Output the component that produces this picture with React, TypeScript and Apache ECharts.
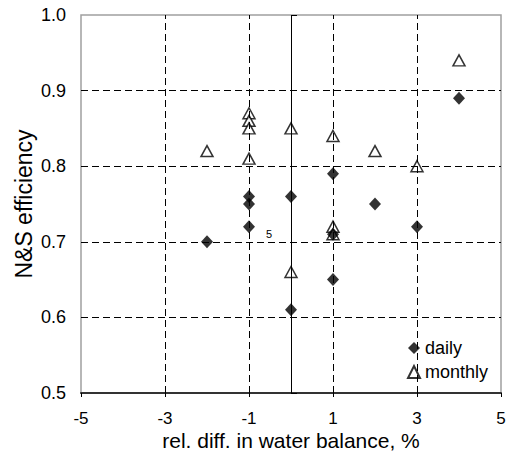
import React, { useEffect, useRef } from "react";
import * as echarts from "echarts";

const xDaily = [-2, -1, -1, -1, 0, 0, 1, 1, 1, 2, 3, 4];
const yDaily = [0.70, 0.76, 0.75, 0.72, 0.76, 0.61, 0.79, 0.71, 0.65, 0.75, 0.72, 0.89];
const xMonthly = [-2, -1, -1, -1, -1, 0, 0, 1, 1, 1, 2, 3, 4];
const yMonthly = [0.82, 0.87, 0.86, 0.85, 0.81, 0.85, 0.66, 0.84, 0.72, 0.71, 0.82, 0.80, 0.94];
const xTicks = [-5, -3, -1, 1, 3, 5];
const xGrid = [-3, -1, 1, 3];
const yGrid = [0.6, 0.7, 0.8, 0.9];

const FONT = "'Liberation Sans', Arial, sans-serif";

export default function App() {
  const ref = useRef<HTMLDivElement>(null);
  useEffect(() => {
    document.body.style.margin = "0";
    if (!ref.current) return;
    const chart = echarts.init(ref.current, null, { renderer: "svg" });
    const dashed = { color: "#000", width: 1, type: [7, 4] as any };
    chart.setOption({
      animation: false,
      textStyle: { fontFamily: FONT },
      grid: {
        left: 81,
        right: 6,
        top: 15,
        bottom: 62,
        outerBoundsMode: "none",
        containLabel: false,
        show: true,
        borderColor: "#a0a0a0",
        borderWidth: 1.5,
        backgroundColor: "transparent",
      },
      xAxis: {
        type: "value",
        min: -5,
        max: 5,
        interval: 1,
        name: "rel. diff. in water balance, %",
        nameLocation: "middle",
        nameGap: 37,
        nameMoveOverlap: false,
        nameTextStyle: { fontSize: 21, color: "#000", fontFamily: FONT },
        axisLine: { show: true, lineStyle: { color: "#333", width: 2 } },
        axisTick: { show: true, inside: false, length: 4, customValues: xTicks, lineStyle: { color: "#000" } },
        axisLabel: { customValues: xTicks, fontSize: 17, color: "#000", margin: 17, fontFamily: FONT },
        splitLine: { show: false },
      },
      yAxis: {
        type: "value",
        min: 0.5,
        max: 1.0,
        interval: 0.1,
        name: "N&S efficiency",
        nameLocation: "middle",
        nameGap: 46,
        nameMoveOverlap: false,
        nameTextStyle: { fontSize: 23, color: "#000", fontFamily: FONT },
        axisLine: { show: false },
        axisTick: { show: true, inside: true, length: 6, lineStyle: { color: "#000" } },
        axisLabel: {
          fontSize: 18,
          color: "#000",
          margin: 15,
          fontFamily: FONT,
          formatter: (v: number) => v.toFixed(1),
        },
        splitLine: { show: false },
      },
      legend: {
        orient: "vertical",
        left: 402,
        top: 334,
        itemWidth: 12,
        itemHeight: 12,
        itemGap: 6,
        textStyle: { fontSize: 18, color: "#000", fontFamily: FONT },
        data: ["daily", "monthly"],
      },
      graphic: [
        {
          type: "text",
          left: 266,
          top: 228,
          style: { text: "5", fontSize: 11, fill: "#000", fontFamily: FONT },
        },
      ],
      series: [
        {
          type: "scatter",
          name: "grid",
          data: [],
          silent: true,
          markLine: {
            silent: true,
            symbol: "none",
            label: { show: false },
            data: [
              ...xGrid.map((v) => ({ xAxis: v, lineStyle: dashed })),
              ...yGrid.map((v) => ({ yAxis: v, lineStyle: dashed })),
              { xAxis: 0, lineStyle: { color: "#000", width: 1, type: "solid" } },
            ],
          },
        },
        {
          type: "scatter",
          name: "monthly",
          symbol: "triangle",
          symbolSize: [12, 11],
          itemStyle: { color: "#fff", borderColor: "#000", borderWidth: 1.5 },
          data: xMonthly.map((x, i) => [x, yMonthly[i]]),
          z: 3,
        },
        {
          type: "scatter",
          name: "daily",
          symbol: "diamond",
          symbolSize: [12, 13],
          itemStyle: { color: "#000" },
          data: xDaily.map((x, i) => [x, yDaily[i]]),
          z: 4,
        },
      ],
    });
    return () => chart.dispose();
  }, []);
  return <div ref={ref} style={{ width: 507, height: 455 }} />;
}
